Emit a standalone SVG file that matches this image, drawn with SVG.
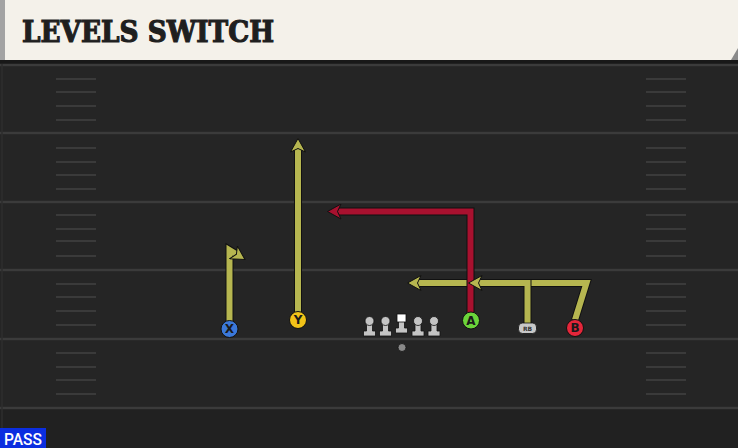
<svg xmlns="http://www.w3.org/2000/svg" width="738" height="448" viewBox="0 0 738 448">
<style>
.yard{stroke:#3b3b3b;stroke-width:2.5}
.hash{stroke:#3a3a3a;stroke-width:2}
.outl{fill:none;stroke:#111;stroke-width:8;stroke-linejoin:miter}
.ylw{fill:none;stroke:#b6b650;stroke-width:6;stroke-linejoin:miter}
.red{fill:none;stroke:#a8112f;stroke-width:6;stroke-linejoin:miter}
.lbl{font-family:"DejaVu Sans","Liberation Sans",sans-serif;font-weight:bold;font-size:12px;fill:#1a1a1a;text-anchor:middle}
.pc{stroke:#111;stroke-width:1}
.ol{fill:#c4c4c4;stroke:#111;stroke-width:0.8}
</style>
<defs>
<marker id="ay" markerUnits="userSpaceOnUse" markerWidth="15" markerHeight="16" refX="3.5" refY="8" orient="auto" viewBox="0 0 15 16">
<path d="M0.5,0.5 L14,8 L0.5,15.5 L4,8 Z" fill="#b6b650" stroke="#111" stroke-width="1"/>
</marker>
<marker id="ar" markerUnits="userSpaceOnUse" markerWidth="15" markerHeight="16" refX="3.5" refY="8" orient="auto" viewBox="0 0 15 16">
<path d="M0.5,0.5 L14,8 L0.5,15.5 L4,8 Z" fill="#a8112f" stroke="#111" stroke-width="1"/>
</marker>
</defs>
<rect x="0" y="0" width="738" height="448" fill="#252525"/>
<rect x="0" y="409" width="738" height="39" fill="#212121"/>
<g id="header">
<rect x="0" y="0" width="738" height="60" fill="#f4f1ea"/>
<rect x="0" y="0" width="5" height="60" fill="#a3a3a3"/>
<polygon points="738,48 738,60 731,60" fill="#8a8a8a"/>
<rect x="0" y="60" width="738" height="4" fill="#181818"/>
<text x="22" y="42" font-family="'DejaVu Serif','Liberation Serif',serif" font-weight="bold" font-size="29" fill="#1f1f1f" stroke="#1f1f1f" stroke-width="1.2" textLength="252" lengthAdjust="spacingAndGlyphs">LEVELS SWITCH</text>
</g>
<g id="field">
<line x1="0" y1="65" x2="738" y2="65" class="yard"/>
<line x1="0" y1="133" x2="738" y2="133" class="yard"/>
<line x1="0" y1="202" x2="738" y2="202" class="yard"/>
<line x1="0" y1="270" x2="738" y2="270" class="yard"/>
<line x1="0" y1="339" x2="738" y2="339" class="yard"/>
<line x1="0" y1="408" x2="738" y2="408" class="yard"/>
<line x1="2" y1="64" x2="2" y2="448" stroke="#2e2e2e" stroke-width="1.5"/>
<g class="hash">
<line x1="56" y1="79" x2="96" y2="79"/><line x1="56" y1="92" x2="96" y2="92"/><line x1="56" y1="106" x2="96" y2="106"/><line x1="56" y1="120" x2="96" y2="120"/>
<line x1="56" y1="148" x2="96" y2="148"/><line x1="56" y1="162" x2="96" y2="162"/><line x1="56" y1="175" x2="96" y2="175"/><line x1="56" y1="189" x2="96" y2="189"/>
<line x1="56" y1="215" x2="96" y2="215"/><line x1="56" y1="229" x2="96" y2="229"/><line x1="56" y1="241" x2="96" y2="241"/><line x1="56" y1="256" x2="96" y2="256"/>
<line x1="56" y1="284" x2="96" y2="284"/><line x1="56" y1="297" x2="96" y2="297"/><line x1="56" y1="311" x2="96" y2="311"/><line x1="56" y1="325" x2="96" y2="325"/>
<line x1="56" y1="353" x2="96" y2="353"/><line x1="56" y1="367" x2="96" y2="367"/><line x1="56" y1="380" x2="96" y2="380"/><line x1="56" y1="394" x2="96" y2="394"/>
<line x1="646" y1="79" x2="686" y2="79"/><line x1="646" y1="92" x2="686" y2="92"/><line x1="646" y1="106" x2="686" y2="106"/><line x1="646" y1="120" x2="686" y2="120"/>
<line x1="646" y1="148" x2="686" y2="148"/><line x1="646" y1="162" x2="686" y2="162"/><line x1="646" y1="175" x2="686" y2="175"/><line x1="646" y1="189" x2="686" y2="189"/>
<line x1="646" y1="215" x2="686" y2="215"/><line x1="646" y1="229" x2="686" y2="229"/><line x1="646" y1="241" x2="686" y2="241"/><line x1="646" y1="256" x2="686" y2="256"/>
<line x1="646" y1="284" x2="686" y2="284"/><line x1="646" y1="297" x2="686" y2="297"/><line x1="646" y1="311" x2="686" y2="311"/><line x1="646" y1="325" x2="686" y2="325"/>
<line x1="646" y1="353" x2="686" y2="353"/><line x1="646" y1="367" x2="686" y2="367"/><line x1="646" y1="380" x2="686" y2="380"/><line x1="646" y1="394" x2="686" y2="394"/>
</g>
</g>
<g id="connectors">
<path class="outl" d="M229.5,322 L229.5,250 L236,254"/>
<path class="ylw" d="M229.5,322 L229.5,250 L236,254" marker-end="url(#ay)"/>
<path class="outl" d="M298,312 L298,149"/>
<path class="ylw" d="M298,312 L298,149" marker-end="url(#ay)"/>
<path class="outl" d="M575,320 L586.5,283 L418,283"/>
<path class="ylw" d="M575,320 L586.5,283 L418,283" marker-end="url(#ay)"/>
<path class="outl" d="M470.5,313 L470.5,211.5 L338,211.5"/>
<path class="red" d="M470.5,313 L470.5,211.5 L338,211.5" marker-end="url(#ar)"/>
<path class="outl" d="M527.5,323 L527.5,283 L479,283"/>
<path class="ylw" d="M527.5,323 L527.5,283 L479,283" marker-end="url(#ay)"/>
</g>
<g id="X"><circle cx="229.5" cy="329" r="8.5" fill="#3b78d9" class="pc"/><text x="229.5" y="333.3" class="lbl">X</text></g>
<g id="Y"><circle cx="298" cy="320" r="8.5" fill="#f2c318" class="pc"/><text x="298" y="324.3" class="lbl">Y</text></g>
<g id="A"><circle cx="471" cy="320.5" r="8.5" fill="#6bd43a" class="pc"/><text x="471" y="324.8" class="lbl">A</text></g>
<g id="B"><circle cx="575" cy="328" r="8.5" fill="#e4263a" class="pc"/><text x="575" y="332.3" class="lbl">B</text></g>
<g id="RB"><rect x="518.5" y="323" width="18" height="10.5" rx="4" fill="#c8c8c8" stroke="#111" stroke-width="0.8"/><text x="527.5" y="331" font-family="'DejaVu Sans','Liberation Sans',sans-serif" font-weight="bold" font-size="6" fill="#333" text-anchor="middle">RB</text></g>
<g id="OL1"><path class="ol" d="M366.5,323 L372.5,323 L372.5,331 L375.5,331 L375.5,336 L363.5,336 L363.5,331 L366.5,331 Z"/><circle cx="369.5" cy="321" r="4.5" class="ol"/></g>
<g id="OL2"><path class="ol" d="M382.5,323 L388.5,323 L388.5,331 L391.5,331 L391.5,336 L379.5,336 L379.5,331 L382.5,331 Z"/><circle cx="385.5" cy="321" r="4.5" class="ol"/></g>
<g id="C"><path class="ol" d="M398.5,321 L404.5,321 L404.5,328 L407.5,328 L407.5,333 L395.5,333 L395.5,328 L398.5,328 Z"/><rect x="397" y="314" width="9" height="8" fill="#ffffff" stroke="#111" stroke-width="0.8"/></g>
<g id="OL4"><path class="ol" d="M415,323 L421,323 L421,331 L424,331 L424,336 L412,336 L412,331 L415,331 Z"/><circle cx="418" cy="321" r="4.5" class="ol"/></g>
<g id="OL5"><path class="ol" d="M431,323 L437,323 L437,331 L440,331 L440,336 L428,336 L428,331 L431,331 Z"/><circle cx="434" cy="321" r="4.5" class="ol"/></g>
<g id="QB"><circle cx="402" cy="347.5" r="4" fill="#8a8a8a" stroke="#111" stroke-width="0.8"/></g>
<g id="pass"><rect x="0" y="428" width="46" height="20" fill="#0b2ee0"/><text x="23" y="445" font-family="'Roboto','Liberation Sans',sans-serif" font-weight="500" font-size="17" fill="#ffffff" text-anchor="middle" textLength="38" lengthAdjust="spacingAndGlyphs">PASS</text></g>
</svg>
